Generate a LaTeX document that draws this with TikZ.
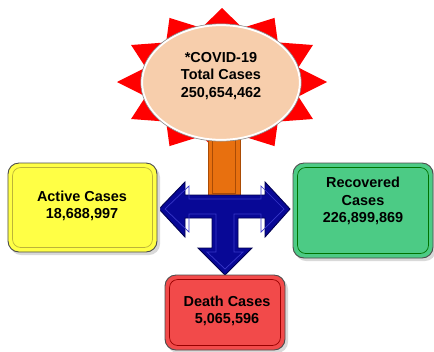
\documentclass[tikz,border=0pt]{standalone}
\usepackage{fontspec}
\setmainfont{Liberation Sans}
\usetikzlibrary{shapes.geometric}
\definecolor{starred}{RGB}{255,0,0}
\definecolor{peach}{RGB}{247,206,172}
\definecolor{orangebar}{RGB}{232,112,15}
\definecolor{orangedark}{RGB}{170,75,5}
\definecolor{arrowblue}{RGB}{8,8,150}
\definecolor{arrowdark}{RGB}{0,0,80}
\definecolor{arrowlight}{RGB}{55,55,200}
\definecolor{boxyellow}{RGB}{255,255,69}
\definecolor{boxgreen}{RGB}{76,203,133}
\definecolor{boxred}{RGB}{242,74,74}
\begin{document}
\begin{tikzpicture}[x=1bp,y=-1bp,
  box/.style={draw=black!70, line width=0.9bp, rounded corners=11bp, inner sep=0pt},
  bevel/.style={line width=0.7bp, rounded corners=8bp},
  shadowbox/.style={fill=black!15, rounded corners=11bp},
  lbl/.style={font=\fontsize{14.5}{17.5}\selectfont\bfseries, align=center, inner sep=0pt, text=black}]
\useasboundingbox (0,0) rectangle (434,351);

% sun burst
\fill[starred] plot[samples at={0,15,...,345}, variable=\a]
  ({222+(mod(\a,30)==0 ? 105 : 79)*cos(\a)}, {82-(mod(\a,30)==0 ? 74 : 56)*sin(\a)}) -- cycle;

% orange stem
\node[draw=orangedark, line width=0.9bp, fill=orangebar, minimum width=32bp, minimum height=70bp, inner sep=0pt] (stem) at (224,163) {};
\draw[orangedark, line width=0.7bp] ([shift={(5,5)}]stem.north west) rectangle ([shift={(-5,-5)}]stem.south east);

% ellipse
\node[ellipse, draw=white, line width=2.2bp, fill=peach, minimum width=158bp, minimum height=115bp, inner sep=0pt] (total) at (221,82.5) {};
\draw[black!45, line width=0.6bp] (total.center) ellipse [x radius=80.2, y radius=58.7];
\node[lbl] (totaltxt) at (221,76) {*COVID-19\\Total Cases\\250,654,462};

% blue arrow
\path[fill=arrowblue, draw=arrowdark, line width=0.9bp, line join=miter]
  (159,209) -- (185,182) -- (185,195) -- (265,195) -- (265,182) -- (290,209)
  -- (265,237) -- (265,218) -- (238,218) -- (238,248) -- (252,248) -- (225,275)
  -- (198,248) -- (212,248) -- (212,218) -- (185,218) -- (185,237) -- cycle;
\draw[arrowlight, line width=0.7bp]
  (165,209) -- (189,186) -- (189,199) -- (261,199) -- (261,186) -- (284,209)
  -- (261,232) -- (261,214) -- (234,214) -- (234,252) -- (243,252) -- (225,269)
  -- (207,252) -- (216,252) -- (216,214) -- (189,214) -- (189,232) -- cycle;

% boxes
\fill[shadowbox] (10,166) rectangle (160,255);
\node[box, fill=boxyellow, minimum width=149bp, minimum height=89bp] (active) at (82.5,207.5) {};
\draw[bevel, draw=yellow!70!black] ([shift={(5,5)}]active.north west) rectangle ([shift={(-5,-5)}]active.south east);
\node[lbl] (activetxt) at (82,206) {Active Cases\\18,688,997};

\fill[shadowbox] (295,166) rectangle (436,261);
\node[box, fill=boxgreen, minimum width=140bp, minimum height=95bp] (recov) at (363,210.5) {};
\draw[bevel, draw=green!45!black] ([shift={(5,5)}]recov.north west) rectangle ([shift={(-5,-5)}]recov.south east);
\node[lbl] (recovtxt) at (363,201) {Recovered\\Cases\\226,899,869};

\fill[shadowbox] (167,278) rectangle (288,353);
\node[box, fill=boxred, minimum width=120bp, minimum height=75bp] (death) at (225,312.5) {};
\draw[bevel, draw=red!60!black] ([shift={(5,5)}]death.north west) rectangle ([shift={(-5,-5)}]death.south east);
\node[lbl] (deathtxt) at (227,311) {Death Cases\\5,065,596};
\end{tikzpicture}
\end{document}
